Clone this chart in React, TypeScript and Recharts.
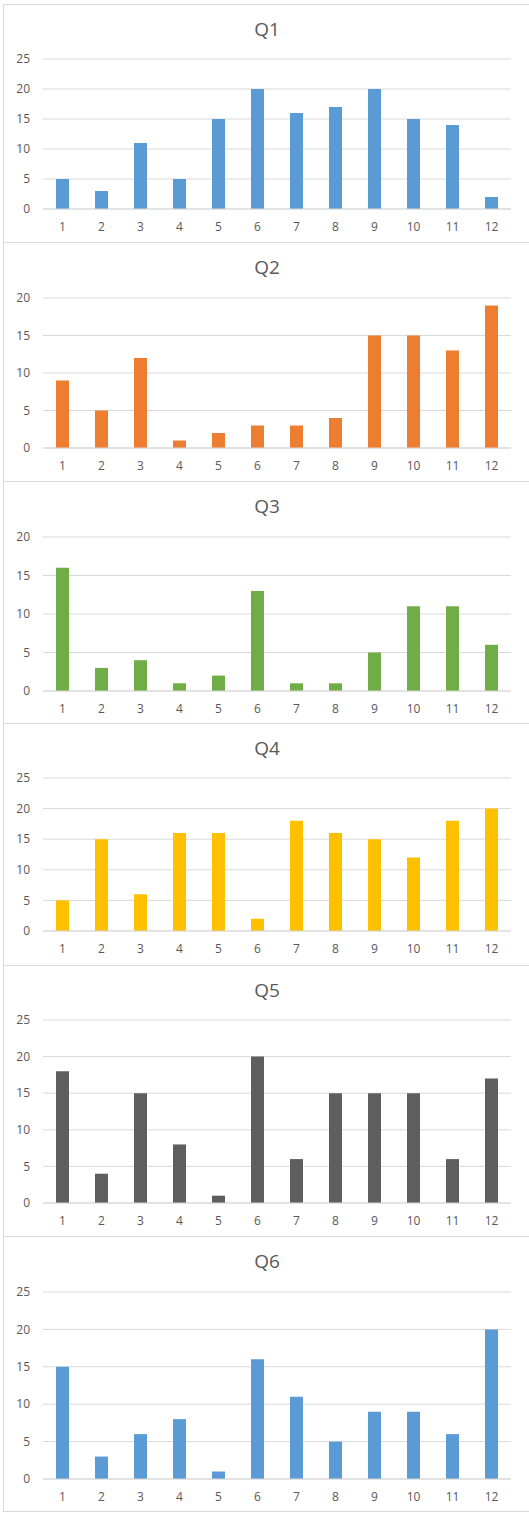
import React from 'react';
import { BarChart, Bar, XAxis, YAxis, CartesianGrid } from 'recharts';

const months = ['1', '2', '3', '4', '5', '6', '7', '8', '9', '10', '11', '12'];

const q1 = [5, 3, 11, 5, 15, 20, 16, 17, 20, 15, 14, 2];
const q2 = [9, 5, 12, 1, 2, 3, 3, 4, 15, 15, 13, 19];
const q3 = [16, 3, 4, 1, 2, 13, 1, 1, 5, 11, 11, 6];
const q4 = [5, 15, 6, 16, 16, 2, 18, 16, 15, 12, 18, 20];
const q5 = [18, 4, 15, 8, 1, 20, 6, 15, 15, 15, 6, 17];
const q6 = [15, 3, 6, 8, 1, 16, 11, 5, 9, 9, 6, 20];

const titles = ['Q1', 'Q2', 'Q3', 'Q4', 'Q5', 'Q6'];
const series = [q1, q2, q3, q4, q5, q6];
const yMax = [25, 20, 20, 25, 25, 25];

// panel layout in page pixels: border top, border bottom, plot top, plot bottom
const panels = [
  { top: 4, bottom: 242, plotTop: 59, plotBottom: 209, color: '#5B9BD5' },
  { top: 242, bottom: 481, plotTop: 298, plotBottom: 448, color: '#ED7D31' },
  { top: 481, bottom: 723, plotTop: 537, plotBottom: 691, color: '#70AD47' },
  { top: 723, bottom: 965, plotTop: 778, plotBottom: 931, color: '#FFC000' },
  { top: 965, bottom: 1236, plotTop: 1020, plotBottom: 1203, color: '#5E5E5E' },
  { top: 1236, bottom: 1511, plotTop: 1292, plotBottom: 1479, color: '#5B9BD5' },
];

const textColor = '#595959';
const gridColor = '#d9d9d9';

const Panel: React.FC<{ idx: number }> = ({ idx }) => {
  const p = panels[idx];
  const values = series[idx];
  const max = yMax[idx];
  const data = months.map((m, i) => ({ month: m, value: values[i] }));
  const ticks: number[] = [];
  for (let t = 0; t <= max; t += 5) ticks.push(t);

  const innerH = p.bottom - p.top - 1;
  const marginTop = p.plotTop - (p.top + 1);
  const marginBottom = p.bottom - p.plotBottom - 30;

  return (
    <div
      style={{
        position: 'absolute',
        left: 3,
        top: p.top,
        width: 528,
        height: p.bottom - p.top + 1,
        boxSizing: 'border-box',
        border: `1px solid ${gridColor}`,
        background: '#fff',
      }}
    >
      <div
        style={{
          position: 'absolute',
          top: 12,
          left: 0,
          width: 526,
          textAlign: 'center',
          fontSize: 19,
          lineHeight: '24px',
          color: textColor,
        }}
      >
        {titles[idx]}
      </div>
      <BarChart
        width={526}
        height={innerH}
        data={data}
        margin={{ top: marginTop, right: 19, bottom: marginBottom, left: 0 }}
      >
        <CartesianGrid vertical={false} stroke={gridColor} />
        <XAxis
          dataKey="month"
          height={30}
          axisLine={{ stroke: gridColor }}
          tickLine={false}
          tickMargin={7}
          tick={{ fill: textColor, fontSize: 12 }}
        />
        <YAxis
          width={39}
          domain={[0, max]}
          ticks={ticks}
          axisLine={false}
          tickLine={false}
          tickMargin={7}
          tick={{ fill: textColor, fontSize: 12 }}
        />
        <Bar dataKey="value" fill={p.color} barSize={13} isAnimationActive={false} />
      </BarChart>
    </div>
  );
};

const App: React.FC = () => {
  return (
    <div
      style={{
        position: 'absolute',
        left: 0,
        top: 0,
        width: 529,
        height: 1513,
        background: '#fff',
        overflow: 'hidden',
        fontFamily: '"Open Sans", "Noto Sans", sans-serif',
      }}
    >
      {panels.map((_, i) => (
        <Panel key={i} idx={i} />
      ))}
    </div>
  );
};

export default App;
